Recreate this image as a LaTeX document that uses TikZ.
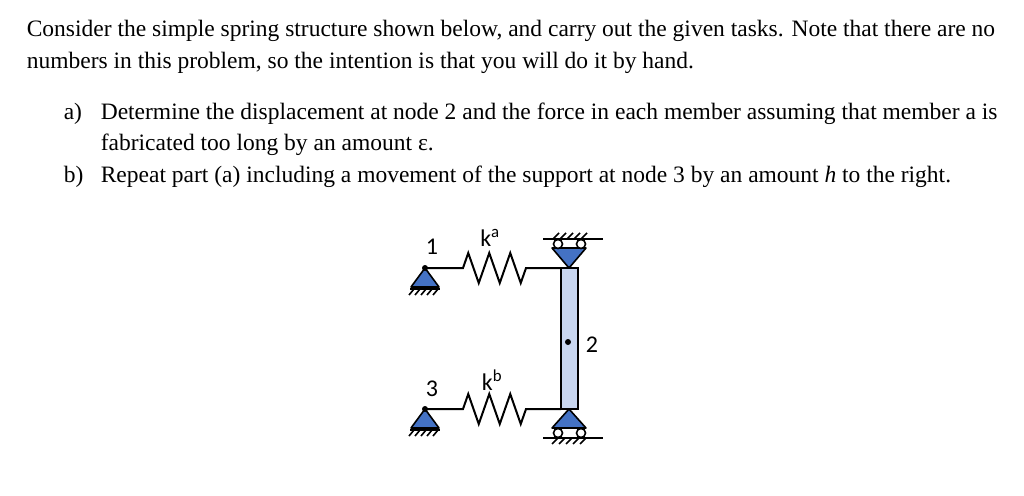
\documentclass[tikz,border=0pt]{standalone}
\usepackage{fontspec}
\setmainfont{Liberation Serif}
\newfontfamily\labelfont{Carlito}
\usetikzlibrary{positioning,calc,decorations.pathmorphing,patterns}
\definecolor{supblue}{RGB}{68,114,196}
\definecolor{barblue}{RGB}{200,214,240}
\tikzset{
  txt/.style={anchor=base west, inner sep=0pt, font=\fontsize{23.5}{26}\selectfont},
  lbl/.style={inner sep=0pt, font=\labelfont\fontsize{24}{26}\selectfont},
  spring/.style={decorate, decoration={zigzag, amplitude=15pt, segment length=21pt, pre length=38pt, post length=34pt}, line width=2pt},
  tri/.style={fill=supblue, draw=black, line join=round}
}
\newcommand{\hatchdown}[3]{% x, y, width
  \draw (#1,#2) -- ++(#3,0);
  \foreach \k in {0,...,4} \draw ($(#1,#2)+(\k*#3/5+4,0)$) -- ++(-5,6);}
\begin{document}
\begin{tikzpicture}[x=1pt,y=-1pt, line width=1.6pt]
\useasboundingbox (0,0) rectangle (1024,495);

% text
\node[txt] (l1) at (26,37) {Consider the simple spring structure shown below, and carry out the given tasks. Note that there are no};
\node[txt] (l2) at (26,68) {numbers in this problem, so the intention is that you will do it by hand.};
\node[txt] (ia) at (63,119) {a)};
\node[txt] (ta) at (100,119) {Determine the displacement at node 2 and the force in each member assuming that member a is};
\node[txt] (ta2) at (100,150) {fabricated too long by an amount ε.};
\node[txt] (ib) at (63,182) {b)};
\node[txt] (tb) at (100,182) {Repeat part (a) including a movement of the support at node 3 by an amount \textit{h} to the right.};

% geometry
\coordinate (n1) at (425,268);
\coordinate (n3) at (425,409);
\coordinate (btop) at (569,268);
\coordinate (bbot) at (569,409);

% bar
\draw[fill=barblue] (561,268) rectangle (578,409);
\fill (568,342) circle (3pt);

% springs
\draw[spring] (n1) -- (561,268);
\draw[spring] (n3) -- (561,409);

% pinned supports at 1 and 3
\foreach \p in {n1,n3}{
  \draw[tri] (\p) -- ++(-14,19) -- ++(28,0) -- cycle;
  \fill (\p) circle (3pt);
  \hatchdown{$(\p)+(-15,21)$}{0}{30}
}

% roller at top (inverted)
\draw[tri] (btop) -- (552,248) -- (586,248) -- cycle;
\draw[fill=white] (558,244) circle (4.5pt) (581,244) circle (4.5pt);
\draw (543,239) -- (603,239);
\foreach \k in {0,...,4} \draw (553+\k*7,239) -- ++(6,-6);

% roller at bottom
\draw[tri] (bbot) -- (552,428) -- (586,428) -- cycle;
\draw[fill=white] (558,433) circle (4.5pt) (581,433) circle (4.5pt);
\draw (543,438) -- (603,438);
\foreach \k in {0,...,4} \draw (558+\k*7,438) -- ++(-6,6);

% labels
\node[lbl] (lab1) at (432,247) {1};
\node[lbl] (lab3) at (432,389) {3};
\node[lbl] (ka) at (490,238) {k\textsuperscript{a}};
\node[lbl] (kb) at (492,380) {k\textsuperscript{b}};
\node[lbl] (lab2) at (592,345) {2};
\end{tikzpicture}
\end{document}
